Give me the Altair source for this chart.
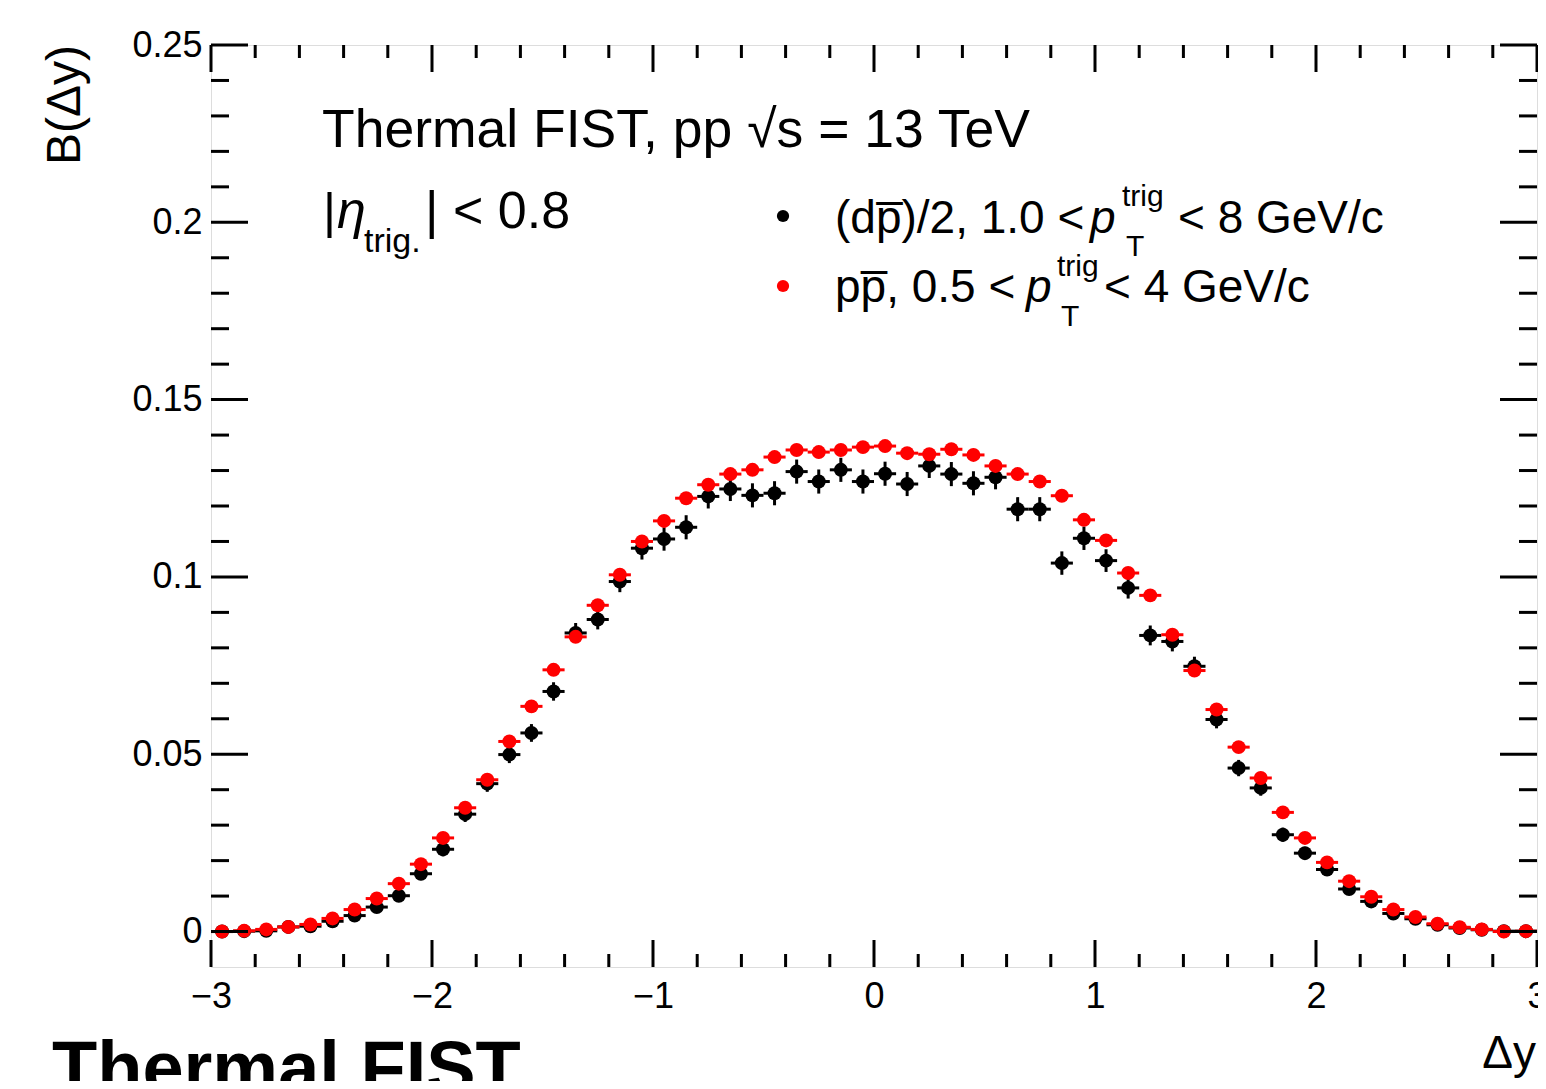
import altair as alt
import pandas as pd

FONT = "Liberation Sans"

# ---- data ----
dy_centres = [-2.95, -2.85, -2.75, -2.65, -2.55, -2.45, -2.35, -2.25, -2.15, -2.05,
              -1.95, -1.85, -1.75, -1.65, -1.55, -1.45, -1.35, -1.25, -1.15, -1.05,
              -0.95, -0.85, -0.75, -0.65, -0.55, -0.45, -0.35, -0.25, -0.15, -0.05,
              0.05, 0.15, 0.25, 0.35, 0.45, 0.55, 0.65, 0.75, 0.85, 0.95,
              1.05, 1.15, 1.25, 1.35, 1.45, 1.55, 1.65, 1.75, 1.85, 1.95,
              2.05, 2.15, 2.25, 2.35, 2.45, 2.55, 2.65, 2.75, 2.85, 2.95]

dpbar_vals = [0.0000, 0.0001, 0.0002, 0.0013, 0.0015, 0.0029, 0.0045, 0.0069, 0.0101, 0.0163,
              0.0232, 0.0331, 0.0417, 0.0499, 0.0560, 0.0677, 0.0842, 0.0880, 0.0987, 0.1081,
              0.1107, 0.1140, 0.1227, 0.1248, 0.1230, 0.1236, 0.1297, 0.1269, 0.1302, 0.1269,
              0.1291, 0.1262, 0.1313, 0.1290, 0.1264, 0.1281, 0.1191, 0.1191, 0.1039, 0.1109,
              0.1046, 0.0969, 0.0835, 0.0818, 0.0748, 0.0598, 0.0461, 0.0405, 0.0273, 0.0221,
              0.0175, 0.0120, 0.0085, 0.0051, 0.0036, 0.0019, 0.0010, 0.0005, 0.0001, 0.0001]

dpbar_errs = [0.0002, 0.0002, 0.0003, 0.0005, 0.0006, 0.0008, 0.0010, 0.0012, 0.0015, 0.0018,
              0.0020, 0.0022, 0.0023, 0.0024, 0.0025, 0.0026, 0.0028, 0.0028, 0.0030, 0.0032,
              0.0033, 0.0034, 0.0034, 0.0034, 0.0034, 0.0034, 0.0034, 0.0034, 0.0034, 0.0034,
              0.0034, 0.0034, 0.0034, 0.0034, 0.0034, 0.0034, 0.0034, 0.0034, 0.0033, 0.0033,
              0.0032, 0.0030, 0.0028, 0.0028, 0.0027, 0.0025, 0.0023, 0.0022, 0.0020, 0.0018,
              0.0016, 0.0014, 0.0012, 0.0010, 0.0008, 0.0006, 0.0005, 0.0003, 0.0002, 0.0002]

ppbar_vals = [0.0000, 0.0002, 0.0006, 0.0013, 0.0020, 0.0037, 0.0062, 0.0093, 0.0135, 0.0190,
              0.0264, 0.0349, 0.0428, 0.0536, 0.0635, 0.0738, 0.0831, 0.0920, 0.1006, 0.1100,
              0.1158, 0.1222, 0.1260, 0.1290, 0.1302, 0.1338, 0.1358, 0.1352, 0.1358, 0.1366,
              0.1369, 0.1349, 0.1346, 0.1360, 0.1344, 0.1313, 0.1290, 0.1269, 0.1229, 0.1161,
              0.1103, 0.1011, 0.0948, 0.0837, 0.0736, 0.0626, 0.0520, 0.0433, 0.0336, 0.0264,
              0.0195, 0.0142, 0.0098, 0.0062, 0.0041, 0.0022, 0.0012, 0.0006, 0.0000, 0.0001]

ppbar_errs = [0.0001, 0.0001, 0.0002, 0.0003, 0.0004, 0.0005, 0.0006, 0.0007, 0.0008, 0.0009,
              0.0010, 0.0011, 0.0012, 0.0013, 0.0014, 0.0014, 0.0015, 0.0015, 0.0016, 0.0016,
              0.0016, 0.0017, 0.0017, 0.0017, 0.0017, 0.0017, 0.0017, 0.0017, 0.0017, 0.0017,
              0.0017, 0.0017, 0.0017, 0.0017, 0.0017, 0.0017, 0.0017, 0.0017, 0.0017, 0.0016,
              0.0016, 0.0016, 0.0015, 0.0015, 0.0014, 0.0014, 0.0013, 0.0012, 0.0011, 0.0010,
              0.0009, 0.0008, 0.0007, 0.0006, 0.0005, 0.0004, 0.0003, 0.0002, 0.0001, 0.0001]

bin_half_width = 0.05

x_major = [-3, -2, -1, 0, 1, 2, 3]
x_minor = [v / 10 for v in range(-30, 31, 2) if v % 10 != 0]
y_major = [0, 0.05, 0.1, 0.15, 0.2, 0.25]
y_minor = [v / 100 for v in range(0, 26) if v % 5 != 0]

W, H = 1326, 922
OX, OY = 211, 45  # page position of plot origin

xscale = alt.Scale(domain=[-3, 3], nice=False, zero=False)
yscale = alt.Scale(domain=[-0.01, 0.25], nice=False, zero=False)

xaxis = alt.Axis(values=x_major, format="d", title=None, grid=False, domain=False,
                 ticks=False, tickSize=0, labelFont=FONT, labelFontSize=36,
                 labelColor="black", labelPadding=12, labelFlush=False)
yaxis = alt.Axis(values=y_major, format="~g", title=None, grid=False, domain=False,
                 ticks=False, tickSize=0, labelFont=FONT, labelFontSize=36,
                 labelColor="black", labelPadding=9, labelFlush=False)


def series_layers(vals, errs, color):
    df = pd.DataFrame({"x": dy_centres, "y": vals, "e": errs})
    base = alt.Chart(df).transform_calculate(
        xlo=f"datum.x - {bin_half_width}", xhi=f"datum.x + {bin_half_width}",
        ylo="datum.y - datum.e", yhi="datum.y + datum.e")
    hbar = base.mark_rule(strokeWidth=3, color=color).encode(
        x=alt.X("xlo:Q", scale=xscale, axis=xaxis), x2="xhi:Q",
        y=alt.Y("y:Q", scale=yscale, axis=yaxis))
    vbar = base.mark_rule(strokeWidth=3, color=color).encode(
        x=alt.X("x:Q", scale=xscale), y=alt.Y("ylo:Q", scale=yscale), y2="yhi:Q")
    pts = base.mark_circle(size=195, opacity=1, color=color).encode(
        x=alt.X("x:Q", scale=xscale), y=alt.Y("y:Q", scale=yscale))
    return [hbar, vbar, pts]


def tick_layers():
    layers = []
    for vals, ln in ((x_major, 27), (x_minor, 13)):
        d = pd.DataFrame({"v": vals})
        layers.append(alt.Chart(d).mark_rule(strokeWidth=3, color="black").encode(
            x=alt.X("v:Q", scale=xscale), y=alt.value(H), y2=alt.value(H - ln)))
        layers.append(alt.Chart(d).mark_rule(strokeWidth=3, color="black").encode(
            x=alt.X("v:Q", scale=xscale), y=alt.value(0), y2=alt.value(ln)))
    for vals, ln in ((y_major, 37), (y_minor, 18)):
        d = pd.DataFrame({"v": vals})
        layers.append(alt.Chart(d).mark_rule(strokeWidth=3, color="black").encode(
            y=alt.Y("v:Q", scale=yscale), x=alt.value(0), x2=alt.value(ln)))
        layers.append(alt.Chart(d).mark_rule(strokeWidth=3, color="black").encode(
            y=alt.Y("v:Q", scale=yscale), x=alt.value(W), x2=alt.value(W - ln)))
    return layers


def txt(s, px, py, size, align="left", **kw):
    return alt.Chart(pd.DataFrame({"t": [s]})).mark_text(
        text=s, font=FONT, fontSize=size, align=align, baseline="alphabetic",
        color="black", **kw).encode(x=alt.value(px - OX), y=alt.value(py - OY))


def dot(px, py, color):
    return alt.Chart(pd.DataFrame({"t": [0]})).mark_circle(
        size=150, opacity=1, color=color).encode(x=alt.value(px - OX), y=alt.value(py - OY))


PBAR = "p\u0305"

annotations = [
    txt("Thermal FIST, pp \u221As = 13 TeV", 322, 147, 53.5),
    txt("|", 323, 228, 50),
    txt("\u03B7", 337, 228, 52, fontStyle="italic"),
    txt("trig.", 364, 252, 34),
    txt("| < 0.8", 425, 228, 52),
    dot(783, 216, "black"),
    dot(783, 286, "red"),
    txt("(d" + PBAR + ")/2, 1.0 <", 835, 233, 46),
    txt("p", 1090, 233, 46, fontStyle="italic"),
    txt("trig", 1122, 206, 30),
    txt("T", 1126, 256, 30),
    txt("< 8 GeV/c", 1178, 233, 46),
    txt("p" + PBAR + ", 0.5 <", 835, 302, 46),
    txt("p", 1026, 302, 46, fontStyle="italic"),
    txt("trig", 1057, 276, 30),
    txt("T", 1061, 326, 30),
    txt("< 4 GeV/c", 1104, 302, 46),
    txt("B(\u0394y)", 80, 45, 48, align="right", angle=270),
    txt("\u0394y", 1536, 1068, 46, align="right"),
    txt("Thermal FIST", 52, 1093, 74, fontWeight="bold"),
]

layers = (series_layers(dpbar_vals, dpbar_errs, "black")
          + series_layers(ppbar_vals, ppbar_errs, "red")
          + tick_layers() + annotations)

chart = alt.layer(*layers).properties(
    width=W, height=H,
    autosize=alt.AutoSizeParams(type="none"),
    padding={"left": OX - 8, "top": OY - 8, "right": 1, "bottom": 114},
).configure_view(stroke="black", strokeWidth=3).configure(background="white")

chart.save("out.html", embed_options={"renderer": "svg", "actions": False})
